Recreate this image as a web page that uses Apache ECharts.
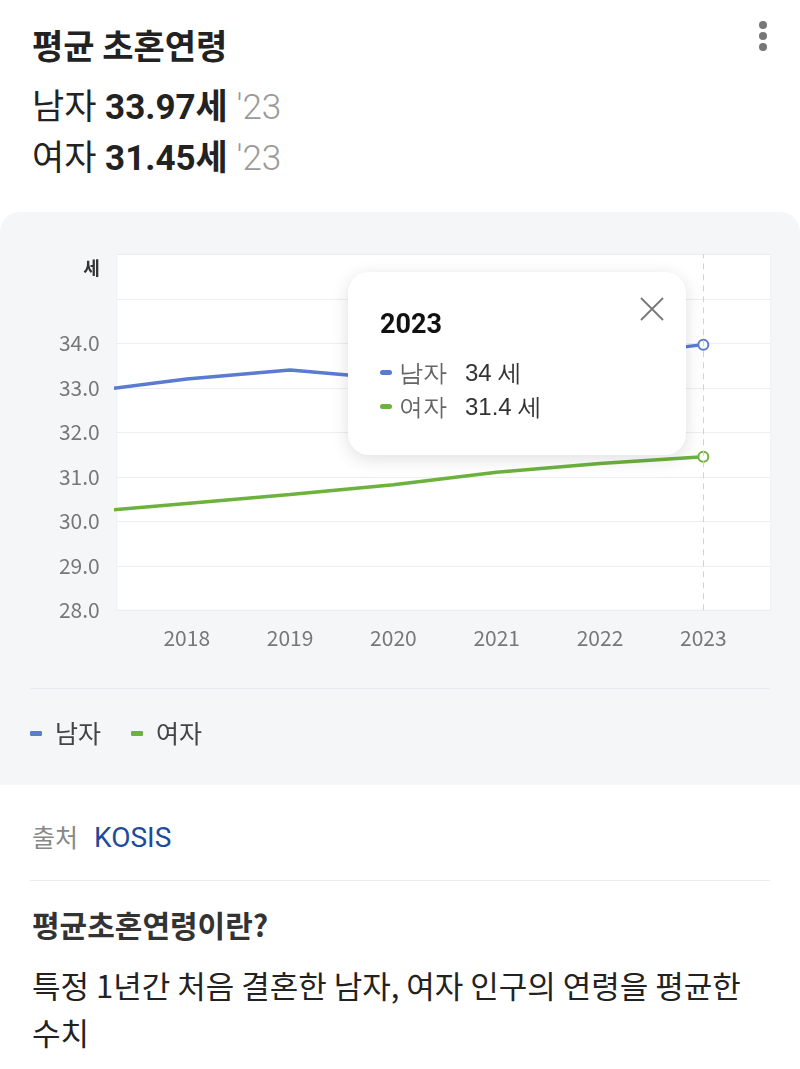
<!DOCTYPE html>
<html><head><meta charset="utf-8">
<script src="https://cdn.jsdelivr.net/npm/echarts@6/dist/echarts.min.js"></script>
<style>
html,body{margin:0;padding:0;background:#fff;width:800px;height:1069px;overflow:hidden;font-family:Roboto,"Noto Sans CJK KR",sans-serif;}
.abs{position:absolute;white-space:nowrap;}
</style></head>
<body>
<div class="abs" style="left:32px;top:25px;font-size:34px;line-height:40px;font-weight:700;color:#222;font-family:'Noto Sans CJK KR'">평균 초혼연령</div>
<div class="abs" style="left:759px;top:21px;width:8px;height:8px;border-radius:4px;background:#777"></div>
<div class="abs" style="left:759px;top:32px;width:8px;height:8px;border-radius:4px;background:#777"></div>
<div class="abs" style="left:759px;top:43px;width:8px;height:8px;border-radius:4px;background:#777"></div>
<div class="abs" id="m" style="left:32px;top:83px;font-size:35px;line-height:42px;color:#222"></div>
<div class="abs" id="f" style="left:32px;top:134px;font-size:35px;line-height:42px;color:#222"></div>
<div class="abs" style="left:0;top:212px;width:800px;height:573px;background:#f5f6f8;border-radius:20px 20px 0 0"></div>
<div class="abs" style="left:30px;top:688px;width:740px;height:1px;background:#e9eaee"></div>
<div class="abs" style="left:32px;top:818px;font-size:25px;line-height:36px;font-family:'Noto Sans CJK KR'"><span style="color:#888">출처</span><span style="color:#1d4b9b;margin-left:16px;font-family:Roboto;font-size:28px">KOSIS</span></div>
<div class="abs" style="left:30px;top:880px;width:740px;height:1px;background:#ececee"></div>
<div class="abs" style="left:32px;top:905px;font-size:30px;line-height:38px;font-weight:700;color:#333;font-family:'Noto Sans CJK KR'">평균초혼연령이란?</div>
<div class="abs" style="left:32px;top:961px;font-size:31px;line-height:47px;color:#222;font-family:'Noto Sans CJK KR';white-space:normal;width:766px">특정 1년간 처음 결혼한 남자, 여자 인구의 연령을 평균한<br>수치</div>
<div id="chart" class="abs" style="left:0;top:0;width:800px;height:1069px"></div>
<script>
const years = [2017, 2018, 2019, 2020, 2021, 2022, 2023];
const male = [32.9, 33.2, 33.4, 33.2, 33.35, 33.7, 33.97];
const female = [30.2, 30.4, 30.6, 30.82, 31.1, 31.3, 31.45];
const xTickLabels = [2018, 2019, 2020, 2021, 2022, 2023];
const seriesNames = ['남자', '여자'];
const unit = '세';
const colors = ['#5a7bd2', '#6cb23c'];

const last = years.length - 1;
function hdr(name, v){
  return '<span style="font-family:\'Noto Sans CJK KR\'">' + name + '</span> <b style="font-weight:700">' + v.toFixed(2) + '<span style="font-family:\'Noto Sans CJK KR\'">' + unit + '</span></b> <span style="color:#9a9a9a;font-weight:300">\'' + String(years[last]).slice(2) + '</span>';
}
document.getElementById('m').innerHTML = hdr(seriesNames[0], male[last]);
document.getElementById('f').innerHTML = hdr(seriesNames[1], female[last]);

function mkData(arr){
  return arr.map((v,i)=> i===last
    ? {value:[years[i], v], symbol:'emptyCircle', symbolSize:10}
    : {value:[years[i], v]});
}
const chart = echarts.init(document.getElementById('chart'), null, {renderer:'canvas'});
const font = '"Noto Sans CJK KR", sans-serif';
chart.setOption({
  animation:false,
  backgroundColor:'transparent',
  color: colors,
  grid:{left:116.7, right:29.3, top:254.3, bottom:458.7, show:true, backgroundColor:'#fff', borderColor:'#eef0f3', borderWidth:1},
  xAxis:{type:'value', min:2017.322, max:2023.652,
    axisLine:{show:false}, axisTick:{show:false}, splitLine:{show:false},
    axisLabel:{customValues:xTickLabels, color:'#777', fontSize:21, fontFamily:font, margin:17, formatter:v=>String(v)}},
  yAxis:{type:'value', min:28, max:36, interval:1,
    name:unit, nameLocation:'end', nameGap:-5,
    nameTextStyle:{align:'right', verticalAlign:'top', padding:[0,17,0,0], fontWeight:'bold', fontSize:18, color:'#333', fontFamily:font},
    axisLine:{show:false}, axisTick:{show:false},
    splitLine:{lineStyle:{color:'#eceef1', width:1}},
    axisLabel:{color:'#777', fontSize:21, fontFamily:font, margin:17, formatter:v=> v>34 ? '' : v.toFixed(1)}},
  legend:{left:25, top:716, icon:'roundRect', itemWidth:12, itemHeight:5, itemGap:30,
    textStyle:{fontSize:25, color:'#444', fontFamily:font, padding:[0,0,0,8]}, data:seriesNames},
  tooltip:{trigger:'item', triggerOn:'none', alwaysShowContent:true, transitionDuration:0,
    padding:0, borderWidth:0, backgroundColor:'#fff',
    extraCssText:'border-radius:21px;box-shadow:0 4px 18px rgba(0,0,0,0.13);',
    position:function(){ return [348, 272]; },
    formatter:function(p){
      const i = p.dataIndex;
      const row = (c,n,v)=>'<div style="display:flex;align-items:center;height:34.5px;font-size:24px;font-family:'+font+'">'
        +'<span style="display:inline-block;width:12px;height:5px;border-radius:3px;background:'+c+';margin-right:7px"></span>'
        +'<span style="color:#666;width:66px">'+n+'</span><span style="color:#333">'+(+v.toFixed(1))+' '+unit+'</span></div>';
      return '<div style="position:relative;width:338px;height:183px;box-sizing:border-box;padding:37px 0 0 32px">'
        +'<svg style="position:absolute;left:292px;top:25px" width="24" height="24"><path d="M1 1L23 23M23 1L1 23" stroke="#777" stroke-width="1.8" fill="none"/></svg>'
        +'<div style="font-size:27px;font-weight:700;color:#111;font-family:Roboto,sans-serif;line-height:30px;margin-bottom:16px">'+years[i]+'</div>'
        +row(colors[0], seriesNames[0], male[i])+row(colors[1], seriesNames[1], female[i])+'</div>';
    }},
  series:[
    {name:seriesNames[0], type:'line', symbol:'none', clip:true, lineStyle:{width:3.5}, itemStyle:{borderWidth:2}, data:mkData(male),
      markLine:{silent:true, symbol:'none', label:{show:false}, lineStyle:{type:[6,5], color:'#cfd2d6', width:1}, data:[{xAxis:years[last]}]}},
    {name:seriesNames[1], type:'line', symbol:'none', clip:true, lineStyle:{width:3.5}, itemStyle:{borderWidth:2}, data:mkData(female)}
  ]
});
chart.dispatchAction({type:'showTip', seriesIndex:0, dataIndex:last});
</script>
</body></html>
